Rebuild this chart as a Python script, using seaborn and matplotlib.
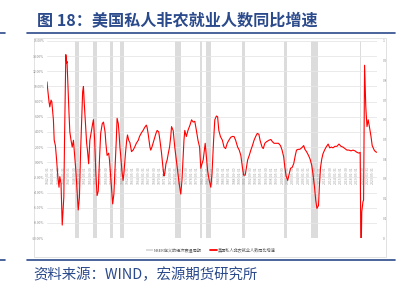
import numpy as np
import pandas as pd
import matplotlib
matplotlib.use("Agg")
import matplotlib.pyplot as plt
from matplotlib.patches import Patch, Rectangle
from matplotlib.lines import Line2D
import seaborn as sns

# ---------------- data ----------------
years = [
    1941.9, 1942.0, 1942.4, 1942.6, 1942.9, 1943.1, 1943.5, 1943.7, 1944.0, 1944.3,
    1944.6, 1944.9, 1945.1, 1945.4, 1945.7, 1946.1, 1946.3, 1946.6, 1946.8, 1946.9,
    1947.1, 1947.4, 1947.6, 1947.9, 1948.2, 1948.5, 1948.7, 1949.1, 1949.4, 1949.7,
    1950.0, 1950.3, 1950.6, 1950.8, 1951.0, 1951.2, 1951.5, 1951.8, 1952.0, 1952.3,
    1952.6, 1953.0, 1953.3, 1953.5, 1953.8, 1954.1, 1954.4, 1954.7, 1955.0, 1955.3,
    1955.7, 1956.0, 1956.4, 1956.6, 1956.9, 1957.3, 1957.5, 1957.8, 1958.1, 1958.3,
    1958.6, 1958.9, 1959.2, 1959.4, 1959.7, 1959.9, 1960.1, 1960.3, 1960.6, 1960.9,
    1961.1, 1961.5, 1961.8, 1962.0, 1962.3, 1962.6, 1963.0, 1963.4, 1963.8, 1964.2,
    1964.7, 1965.0, 1965.5, 1965.9, 1966.3, 1966.7, 1966.9, 1967.2, 1967.6, 1967.8,
    1968.1, 1968.6, 1969.1, 1969.4, 1969.8, 1970.1, 1970.5, 1970.8, 1971.1, 1971.3,
    1971.6, 1971.9, 1972.2, 1972.5, 1972.8, 1973.0, 1973.4, 1973.8, 1974.4, 1974.9,
    1975.3, 1975.6, 1976.1, 1976.3, 1976.7, 1977.1, 1977.6, 1978.0, 1978.4, 1978.8,
    1979.2, 1979.6, 1980.0, 1980.3, 1980.6, 1980.9, 1981.2, 1981.4, 1981.7, 1982.0,
    1982.4, 1982.8, 1983.1, 1983.5, 1983.8, 1984.2, 1984.5, 1984.8, 1985.2, 1985.7,
    1986.1, 1986.5, 1986.9, 1987.3, 1987.8, 1988.2, 1988.6, 1989.0, 1989.5, 1989.9,
    1990.3, 1990.7, 1991.0, 1991.4, 1991.7, 1992.0, 1992.4, 1992.8, 1993.2, 1993.6,
    1994.0, 1994.4, 1994.8, 1995.1, 1995.6, 1995.9, 1996.3, 1996.7, 1997.3, 1997.8,
    1998.2, 1998.6, 1999.2, 1999.7, 2000.2, 2000.6, 2001.0, 2001.3, 2001.6, 2002.0,
    2002.4, 2002.7, 2003.1, 2003.5, 2003.9, 2004.2, 2004.6, 2005.0, 2005.5, 2006.0,
    2006.3, 2006.7, 2007.2, 2007.6, 2008.0, 2008.3, 2008.7, 2009.0, 2009.3, 2009.7,
    2009.9, 2010.2, 2010.5, 2010.8, 2011.2, 2011.6, 2012.1, 2012.5, 2012.9, 2013.3,
    2013.8, 2014.3, 2014.8, 2015.3, 2015.8, 2016.3, 2016.8, 2017.3, 2017.8, 2018.3,
    2018.8, 2019.3, 2019.8, 2020.1, 2020.3, 2020.5, 2020.8, 2020.95, 2021.2, 2021.5,
    2021.8, 2022.1, 2022.4, 2022.8, 2023.1, 2023.6, 2023.9, 2024.3,
]
yoy = [
    10.6, 10.0, 8.0, 7.3, 8.2, 8.0, 5.6, 2.9, 2.2, 0.3,
    -1.9, -3.3, -1.9, -2.8, -8.3, -4.6, 3.8, 14.2, 13.1, 13.3,
    10.4, 6.4, 4.0, 2.9, 2.0, 2.9, 1.6, -1.1, -3.7, -6.3,
    -4.6, 1.6, 6.0, 9.3, 10.0, 7.8, 5.1, 2.5, 1.6, -0.2,
    2.9, 4.2, 5.1, 5.6, 2.9, -1.5, -4.4, -3.8, 0.3, 3.8,
    5.1, 5.3, 4.0, 2.5, 0.9, 1.2, 0.3, -1.9, -4.2, -5.5,
    -4.2, -0.7, 2.9, 5.8, 5.1, 3.8, 2.0, 0.9, -1.1, -2.4,
    -1.5, 1.2, 2.9, 3.6, 2.9, 2.6, 1.4, 1.6, 2.0, 2.5,
    2.9, 3.4, 3.9, 4.2, 4.6, 4.9, 4.6, 3.6, 2.0, 1.6,
    2.0, 2.9, 3.8, 4.2, 4.0, 2.9, 1.2, -0.4, -1.8, -1.5,
    -0.2, 0.3, 1.2, 2.0, 3.4, 4.7, 4.2, 2.0, -0.6, -2.8,
    -4.2, -2.4, 2.9, 4.2, 3.4, 4.2, 4.9, 5.6, 5.3, 5.4,
    4.2, 2.9, 2.0, -0.8, -0.2, 0.3, 1.6, 2.5, 0.7, -1.1,
    -2.4, -3.3, -1.5, 2.9, 5.6, 6.1, 6.0, 4.2, 3.4, 2.9,
    2.0, 1.8, 2.5, 2.9, 3.3, 3.4, 3.4, 2.9, 2.0, 1.6,
    0.9, -0.7, -1.7, -1.7, -0.7, 0.3, 0.9, 1.6, 2.2, 2.9,
    3.4, 3.8, 3.7, 2.9, 2.0, 1.8, 2.5, 2.7, 2.9, 3.0,
    2.7, 2.5, 2.5, 2.5, 2.2, 1.6, 0.7, -0.7, -1.8, -2.4,
    -1.5, -0.8, -0.7, -0.2, 0.9, 1.6, 1.7, 1.7, 1.9, 2.2,
    1.7, 1.4, 0.9, 0.4, -0.4, -1.5, -3.3, -5.0, -6.1, -5.7,
    -3.3, -0.7, 0.4, 1.1, 1.6, 2.0, 2.4, 1.9, 2.0, 1.9,
    2.1, 2.1, 2.4, 2.1, 2.0, 1.8, 1.6, 1.6, 1.5, 1.6,
    1.5, 1.3, 1.2, 1.3, -13.5, -6.5, -5.2, -5.0, 12.8, 7.3,
    4.7, 5.6, 4.7, 3.4, 2.2, 1.6, 1.4, 1.3,
]
# NBER recessions as shown in the chart (start, end, decimal years)
rec_start = [1948.83, 1953.50, 1957.58, 1960.25, 1973.83, 1980.00, 1981.50, 1990.50, 2001.17, 2007.92, 2020.08]
rec_end   = [1949.83, 1954.42, 1958.33, 1961.17, 1975.25, 1980.58, 1982.92, 1991.25, 2001.92, 2009.50, 2020.33]
rec_flag = [1] * len(rec_start)

y_ticks = [16, 14, 12, 10, 8, 6, 4, 2, 0, -2, -4, -6, -8, -10]
r_ticks = [1, 0.9, 0.8, 0.7, 0.6, 0.5, 0.4, 0.3, 0.2, 0.1, 0]
r_labels = ["1", "0.9", "0.8", "0.7", "0.6", "0.5", "0.4", "0.3", "0.2", "0.1", "0"]
title = "图 18：美国私人非农就业人数同比增速"
source = "资料来源：WIND，宏源期货研究所"
legend_labels = ["NBER定义的经济衰退周期", "美国私人非农就业人数同比增速"]

# ---------------- style ----------------
sns.set_theme(style="white")
plt.rcParams["font.family"] = ["Noto Sans CJK SC", "DejaVu Sans"]
plt.rcParams["axes.unicode_minus"] = False

W, H = 404, 287
fig = plt.figure(figsize=(W / 100, H / 100), dpi=100)
fig.patch.set_facecolor("white")

BLUE = "#2b4a8b"
GRID = "#e6e6e6"
BAR = "#dcdcdc"
TICK = "#8c8c8c"

def fx(px):
    return px / W

def fy(py):
    return 1 - py / H

# page decorations
fig.text(fx(37), fy(21), title, fontsize=11.6, fontweight="bold", color=BLUE,
         va="center", ha="left")
fig.add_artist(Line2D([fx(27), fx(395)], [fy(33), fy(33)], color=BLUE, lw=1.2))
fig.add_artist(Line2D([fx(0), fx(5)], [fy(33), fy(33)], color=BLUE, lw=1.2))
fig.add_artist(Rectangle((fx(34), fy(257)), fx(386) - fx(34), fy(38) - fy(257),
                         fill=False, edgecolor="#dddddd", lw=0.6))
fig.add_artist(Line2D([fx(27), fx(395)], [fy(260), fy(260)], color=BLUE, lw=1.2))
fig.add_artist(Line2D([fx(0), fx(5)], [fy(260), fy(260)], color=BLUE, lw=1.2))
fig.text(fx(33), fy(275), source, fontsize=10.4, style="italic", color=BLUE,
         va="center", ha="left")

# axes
ax = fig.add_axes([fx(47), fy(238), fx(377) - fx(47), fy(41) - fy(238)])
ax2 = ax.twinx()

# recession bars (right axis 0..1)
ax2.bar(rec_start, rec_flag, width=np.array(rec_end) - np.array(rec_start),
        align="edge", color=BAR, edgecolor="none", zorder=1)
ax2.set_ylim(0, 1)
ax2.set_yticks(r_ticks)
ax2.set_yticklabels(r_labels)
ax2.tick_params(axis="y", length=0, labelsize=2.4, colors=TICK, pad=4)
for s in ax2.spines.values():
    s.set_visible(False)

# main line on top
ax.set_zorder(ax2.get_zorder() + 1)
ax.patch.set_visible(False)
df = pd.DataFrame({"year": years, "yoy": yoy})
sns.lineplot(data=df, x="year", y="yoy", ax=ax, color="#ff0000", lw=0.8,
             estimator=None, sort=False, zorder=3)
ax.set_ylim(-10, 16)
ax.set_xlim(years[0], years[-1])
ax.set_yticks(y_ticks)
ax.set_yticklabels([f"{v:.2f}%" for v in y_ticks])
ax.tick_params(axis="y", length=0, labelsize=2.4, colors=TICK, pad=2)
ax.yaxis.grid(True, color=GRID, lw=0.6)
ax.xaxis.grid(False)
ax.set_xlabel("")
ax.set_ylabel("")
for s in ["top", "right", "left"]:
    ax.spines[s].set_visible(False)
ax.spines["bottom"].set_position(("data", 0))
ax.spines["bottom"].set_visible(False)

# date category labels hanging from the zero line
tick_dates = pd.date_range("1942-01-31", "2024-06-30", freq="16ME")
tick_pos = [d.year + (d.month - 0.5) / 12 for d in tick_dates]
ax.set_xticks(tick_pos)
ax.set_xticklabels([d.strftime("%Y-%m-%d") for d in tick_dates])
ax.tick_params(axis="x", length=0, labelsize=2.5, colors="#a0a0a0",
               labelrotation=90, pad=3)

# legend
handles = [Patch(facecolor=BAR, edgecolor="none"),
           Line2D([0], [0], color="#ff0000", lw=1.3)]
fig.legend(handles, legend_labels, loc="center", ncol=2,
           bbox_to_anchor=(fx(211), fy(250)), frameon=False, fontsize=3.0,
           handlelength=1.6, handleheight=0.5, handletextpad=0.3,
           columnspacing=2.0, labelcolor="#595959")

fig.savefig("out.png", dpi=100, facecolor="white")
